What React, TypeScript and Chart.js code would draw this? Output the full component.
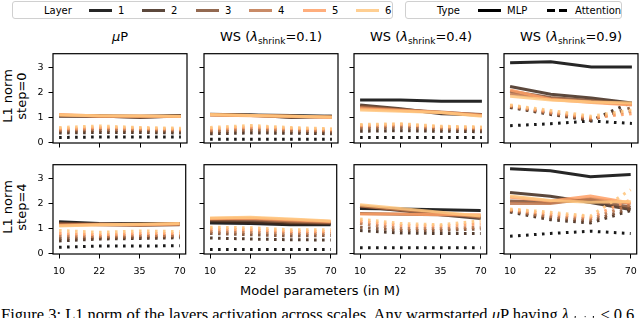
import React, { useEffect, useRef } from 'react';
import { Chart, registerables } from 'chart.js';
Chart.register(...registerables);

// ---------- data ----------
const MODEL_SIZES = ['10', '22', '35', '70'];
const LAYER_LABELS = ['1', '2', '3', '4', '5', '6'];
const LAYER_COLORS = ['#000000', '#40281a', '#804f33', '#bf774c', '#ffa066', '#ffc77f'];
const Y_TICKS = [0, 1, 2, 3];
const ROW_LABELS = [['L1 norm', 'step=0'], ['L1 norm', 'step=4']];

// step 0
const MUP_S0_MLP = [
  [1.08, 1.07, 1.05, 1.08],
  [1.05, 1.06, 1.0, 1.07],
  [1.07, 1.05, 1.02, 1.05],
  [1.1, 1.05, 1.04, 1.05],
  [1.12, 1.06, 1.06, 1.04],
  [1.1, 1.07, 1.06, 1.05],
];
const MUP_S0_ATTN = [
  [0.2, 0.22, 0.22, 0.22],
  [0.38, 0.4, 0.4, 0.38],
  [0.45, 0.48, 0.47, 0.45],
  [0.5, 0.55, 0.52, 0.5],
  [0.55, 0.6, 0.57, 0.53],
  [0.6, 0.66, 0.6, 0.57],
];
const WS01_S0_MLP = [
  [1.12, 1.1, 1.08, 1.05],
  [1.13, 1.1, 1.0, 1.05],
  [1.1, 1.08, 1.02, 1.03],
  [1.12, 1.08, 1.05, 1.02],
  [1.1, 1.07, 1.05, 1.0],
  [1.12, 1.08, 1.05, 1.02],
];
const WS01_S0_ATTN = [
  [0.13, 0.13, 0.13, 0.13],
  [0.35, 0.38, 0.37, 0.35],
  [0.42, 0.48, 0.45, 0.42],
  [0.48, 0.55, 0.5, 0.47],
  [0.55, 0.62, 0.56, 0.52],
  [0.6, 0.68, 0.6, 0.55],
];
const WS04_S0_MLP = [
  [1.7, 1.7, 1.65, 1.65],
  [1.5, 1.35, 1.15, 1.1],
  [1.45, 1.32, 1.2, 1.12],
  [1.4, 1.3, 1.22, 1.1],
  [1.35, 1.28, 1.2, 1.08],
  [1.3, 1.25, 1.2, 1.05],
];
const WS04_S0_ATTN = [
  [0.2, 0.2, 0.2, 0.2],
  [0.45, 0.47, 0.45, 0.43],
  [0.55, 0.58, 0.52, 0.5],
  [0.62, 0.66, 0.58, 0.55],
  [0.68, 0.72, 0.62, 0.6],
  [0.72, 0.75, 0.65, 0.62],
];
const WS09_S0_MLP = [
  [3.19, 3.23, 3.02, 3.02],
  [2.24, 1.93, 1.78, 1.58],
  [2.05, 1.8, 1.68, 1.55],
  [1.95, 1.75, 1.63, 1.52],
  [2.1, 1.72, 1.6, 1.5],
  [1.85, 1.7, 1.62, 1.58],
];
const WS09_S0_ATTN = [
  [0.67, 0.75, 0.86, 0.76],
  [1.4, 1.12, 0.88, 1.62],
  [1.42, 1.15, 0.9, 1.4],
  [1.45, 1.18, 0.95, 1.25],
  [1.48, 1.22, 1.0, 1.15],
  [1.5, 1.28, 1.05, 1.3],
];
// step 4
const MUP_S4_MLP = [
  [1.27, 1.2, 1.18, 1.2],
  [1.22, 1.17, 1.2, 1.18],
  [1.2, 1.15, 1.12, 1.15],
  [1.15, 1.18, 1.15, 1.2],
  [1.12, 1.15, 1.15, 1.18],
  [1.1, 1.15, 1.17, 1.2],
];
const MUP_S4_ATTN = [
  [0.25, 0.3, 0.3, 0.31],
  [0.5, 0.58, 0.6, 0.63],
  [0.6, 0.62, 0.65, 0.68],
  [0.7, 0.68, 0.72, 0.72],
  [0.8, 0.75, 0.8, 0.8],
  [0.92, 0.85, 0.9, 0.88],
];
const WS01_S4_MLP = [
  [1.22, 1.2, 1.15, 1.15],
  [1.3, 1.25, 1.2, 1.2],
  [1.35, 1.35, 1.25, 1.22],
  [1.38, 1.4, 1.3, 1.25],
  [1.4, 1.42, 1.35, 1.28],
  [1.42, 1.45, 1.38, 1.3],
];
const WS01_S4_ATTN = [
  [0.16, 0.16, 0.16, 0.16],
  [0.62, 0.58, 0.55, 0.54],
  [0.8, 0.75, 0.7, 0.72],
  [0.88, 0.85, 0.8, 0.8],
  [0.98, 0.95, 0.88, 0.88],
  [1.05, 1.03, 0.95, 0.95],
];
const WS04_S4_MLP = [
  [1.8, 1.78, 1.75, 1.72],
  [1.88, 1.72, 1.55, 1.4],
  [1.6, 1.57, 1.55, 1.5],
  [1.9, 1.75, 1.62, 1.45],
  [1.58, 1.58, 1.55, 1.55],
  [1.95, 1.8, 1.65, 1.5],
];
const WS04_S4_ATTN = [
  [0.23, 0.23, 0.23, 0.23],
  [0.92, 0.82, 0.8, 0.8],
  [1.05, 0.92, 0.92, 0.98],
  [1.2, 1.0, 1.0, 1.05],
  [1.3, 1.12, 1.1, 1.18],
  [1.38, 1.2, 1.15, 1.3],
];
const WS09_S4_MLP = [
  [3.39, 3.31, 3.07, 3.16],
  [2.44, 2.29, 2.04, 1.76],
  [2.1, 2.05, 2.15, 1.85],
  [2.0, 2.0, 2.2, 2.0],
  [2.25, 2.1, 2.3, 2.02],
  [2.3, 2.12, 2.05, 2.08],
];
const WS09_S4_ATTN = [
  [0.69, 0.8, 0.89, 0.8],
  [1.66, 1.35, 1.22, 1.72],
  [1.7, 1.42, 1.3, 1.8],
  [1.72, 1.48, 1.38, 1.95],
  [1.75, 1.58, 1.45, 2.15],
  [1.78, 1.65, 1.5, 2.55],
];

const SHRINK_VALUES = ['0.1', '0.4', '0.9'];

// ---------- layout ----------
const FONT = "'DejaVu Sans', sans-serif";
const COL_LEFT = [53, 204, 354, 504];
const ROW_TOP = [49, 160];
const PW = 134;
const PH = 94;
const AX_L = 40;
const AX_B = 26;
const PAD = 6;
const LW = 3;

function rgba(hex: string, a: number) {
  const r = parseInt(hex.slice(1, 3), 16);
  const g = parseInt(hex.slice(3, 5), 16);
  const b = parseInt(hex.slice(5, 7), 16);
  return `rgba(${r},${g},${b},${a})`;
}

const framePlugin = {
  id: 'frame',
  afterDraw(chart: any) {
    const { ctx, chartArea } = chart;
    const { left, top, right, bottom } = chartArea;
    ctx.save();
    ctx.strokeStyle = '#000';
    ctx.lineWidth = 1.2;
    ctx.strokeRect(left, top, right - left, bottom - top);
    ctx.restore();
  },
};

function Panel(props: { mlp: number[][]; attn: number[][]; showX: boolean; showY: boolean; left: number; top: number }) {
  const ref = useRef<HTMLCanvasElement | null>(null);
  const { mlp, attn, showX, showY, left, top } = props;
  const W = AX_L + PW + PAD;
  const H = PAD + PH + AX_B;
  useEffect(() => {
    if (!ref.current) return;
    const datasets: any[] = [];
    for (let l = 0; l < LAYER_LABELS.length; l++) {
      datasets.push({
        label: 'MLP ' + LAYER_LABELS[l],
        data: mlp[l].map((v, i) => ({ x: i, y: v })),
        borderColor: rgba(LAYER_COLORS[l], 0.85),
        borderWidth: LW,
        pointRadius: 0,
        tension: 0,
        fill: false,
      });
      datasets.push({
        label: 'Attention ' + LAYER_LABELS[l],
        data: attn[l].map((v, i) => ({ x: i, y: v })),
        borderColor: rgba(LAYER_COLORS[l], 0.9),
        borderWidth: LW,
        borderDash: [2.6, 5.4],
        borderCapStyle: 'butt',
        pointRadius: 0,
        tension: 0,
        fill: false,
      });
    }
    datasets.reverse();
    const tickFont = { family: FONT, size: 9.5 };
    const chart = new Chart(ref.current, {
      type: 'line',
      data: { datasets },
      options: {
        animation: false,
        responsive: false,
        maintainAspectRatio: false,
        devicePixelRatio: 1,
        layout: { padding: { left: 0, top: PAD, right: PAD, bottom: 0 } },
        plugins: { legend: { display: false }, tooltip: { enabled: false } },
        scales: {
          x: {
            type: 'linear',
            min: -0.15,
            max: 3.15,
            afterBuildTicks: (s: any) => {
              s.ticks = MODEL_SIZES.map((_, i) => ({ value: i }));
            },
            afterFit: (s: any) => {
              s.height = AX_B;
            },
            ticks: {
              callback: (v: any) => (showX ? MODEL_SIZES[Math.round(v)] : ''),
              font: tickFont,
              color: '#000',
              padding: 7,
              maxRotation: 0,
              autoSkip: false,
            },
            grid: { display: true, drawOnChartArea: false, drawTicks: true, tickLength: 4.5, color: '#000', lineWidth: 1 },
            border: { display: false },
          },
          y: {
            type: 'linear',
            min: -0.02,
            max: 3.55,
            afterBuildTicks: (s: any) => {
              s.ticks = Y_TICKS.map((v) => ({ value: v }));
            },
            afterFit: (s: any) => {
              s.width = AX_L;
            },
            ticks: {
              callback: (v: any) => (showY ? String(v) : ''),
              font: tickFont,
              color: '#000',
              padding: 5,
              autoSkip: false,
            },
            grid: { display: true, drawOnChartArea: false, drawTicks: true, tickLength: 4.5, color: '#000', lineWidth: 1 },
            border: { display: false },
          },
        },
      } as any,
      plugins: [framePlugin],
    });
    return () => chart.destroy();
  }, []);
  return (
    <canvas
      ref={ref}
      width={W}
      height={H}
      style={{ position: 'absolute', left: left - AX_L, top: top - PAD, width: W, height: H }}
    />
  );
}

const PANELS = [
  { row: 0, col: 0, mlp: MUP_S0_MLP, attn: MUP_S0_ATTN },
  { row: 0, col: 1, mlp: WS01_S0_MLP, attn: WS01_S0_ATTN },
  { row: 0, col: 2, mlp: WS04_S0_MLP, attn: WS04_S0_ATTN },
  { row: 0, col: 3, mlp: WS09_S0_MLP, attn: WS09_S0_ATTN },
  { row: 1, col: 0, mlp: MUP_S4_MLP, attn: MUP_S4_ATTN },
  { row: 1, col: 1, mlp: WS01_S4_MLP, attn: WS01_S4_ATTN },
  { row: 1, col: 2, mlp: WS04_S4_MLP, attn: WS04_S4_ATTN },
  { row: 1, col: 3, mlp: WS09_S4_MLP, attn: WS09_S4_ATTN },
];

function Title({ col }: { col: number }) {
  const cx = COL_LEFT[col] + PW / 2;
  const style: React.CSSProperties = {
    position: 'absolute',
    left: cx - 90,
    width: 180,
    top: 29,
    textAlign: 'center',
    fontSize: 13,
    lineHeight: '15px',
    whiteSpace: 'nowrap',
  };
  if (col === 0) {
    return (
      <div style={style}>
        <span style={{ fontStyle: 'italic' }}>μ</span>P
      </div>
    );
  }
  return (
    <div style={style}>
      WS (<span style={{ fontStyle: 'italic' }}>λ</span>
      <span style={{ fontSize: 9, position: 'relative', top: 3 }}>shrink</span>={SHRINK_VALUES[col - 1]})
    </div>
  );
}

function LegendLine({ x, color, dashed }: { x: number; color: string; dashed?: boolean }) {
  if (dashed) {
    return (
      <>
        <div style={{ position: 'absolute', left: x, top: 8.5, width: 8, height: 3, background: color }} />
        <div style={{ position: 'absolute', left: x + 12, top: 8.5, width: 8, height: 3, background: color }} />
      </>
    );
  }
  return <div style={{ position: 'absolute', left: x, top: 8.5, width: 23, height: 3, background: color }} />;
}

function LegendText({ x, text }: { x: number; text: string }) {
  return (
    <div style={{ position: 'absolute', left: x, top: 4.5, fontSize: 10, lineHeight: '12px', whiteSpace: 'nowrap' }}>{text}</div>
  );
}

const LAYER_HANDLE_X = [89, 142, 196, 249, 303, 356];

export default function App() {
  return (
    <div
      style={{
        position: 'fixed',
        left: 0,
        top: 0,
        width: 640,
        height: 318,
        overflow: 'hidden',
        background: '#fff',
        fontFamily: FONT,
        color: '#000',
      }}
    >
      {/* Legend boxes */}
      <div style={{ position: 'absolute', left: 12, top: 1, width: 381, height: 18, border: '1px solid #d0d0d0', borderRadius: 3, boxSizing: 'border-box' }} />
      <div style={{ position: 'absolute', left: 405, top: 1, width: 217, height: 18, border: '1px solid #d0d0d0', borderRadius: 3, boxSizing: 'border-box' }} />
      <LegendText x={44} text="Layer" />
      {LAYER_LABELS.map((lab, i) => (
        <React.Fragment key={lab}>
          <LegendLine x={LAYER_HANDLE_X[i]} color={rgba(LAYER_COLORS[i], 0.85)} />
          <LegendText x={LAYER_HANDLE_X[i] + 29} text={lab} />
        </React.Fragment>
      ))}
      <LegendText x={437} text="Type" />
      <LegendLine x={478} color="#000" />
      <LegendText x={507} text="MLP" />
      <LegendLine x={547} color="#000" dashed />
      <LegendText x={575} text="Attention" />

      {[0, 1, 2, 3].map((c) => (
        <Title key={c} col={c} />
      ))}

      {ROW_LABELS.map((lines, r) => (
        <div
          key={r}
          style={{
            position: 'absolute',
            left: 15 - 50,
            top: ROW_TOP[r] + PH / 2 - 14,
            width: 100,
            height: 28,
            transform: 'rotate(-90deg)',
            textAlign: 'center',
            fontSize: 13,
            lineHeight: '14px',
            whiteSpace: 'nowrap',
          }}
        >
          <div>{lines[0]}</div>
          <div>{lines[1]}</div>
        </div>
      ))}

      {PANELS.map((p, i) => (
        <Panel
          key={i}
          mlp={p.mlp}
          attn={p.attn}
          showX={p.row === 1}
          showY={p.col === 0}
          left={COL_LEFT[p.col]}
          top={ROW_TOP[p.row]}
        />
      ))}

      <div
        style={{
          position: 'absolute',
          left: 220,
          width: 200,
          top: 283,
          textAlign: 'center',
          fontSize: 13,
          lineHeight: '15px',
          whiteSpace: 'nowrap',
        }}
      >
        Model parameters (in M)
      </div>

      <div
        style={{
          position: 'absolute',
          left: 1,
          top: 306.5,
          fontFamily: "'Liberation Serif', serif",
          fontSize: 16.5,
          lineHeight: '16.5px',
          whiteSpace: 'nowrap',
        }}
      >
        Figure 3: L1 norm of the layers activation across scales. Any warmstarted <i>μ</i>P having <i>λ</i>
        <span style={{ fontSize: 11, fontStyle: 'italic', position: 'relative', top: 3 }}>shrink</span> ≤ 0.6
      </div>
    </div>
  );
}
